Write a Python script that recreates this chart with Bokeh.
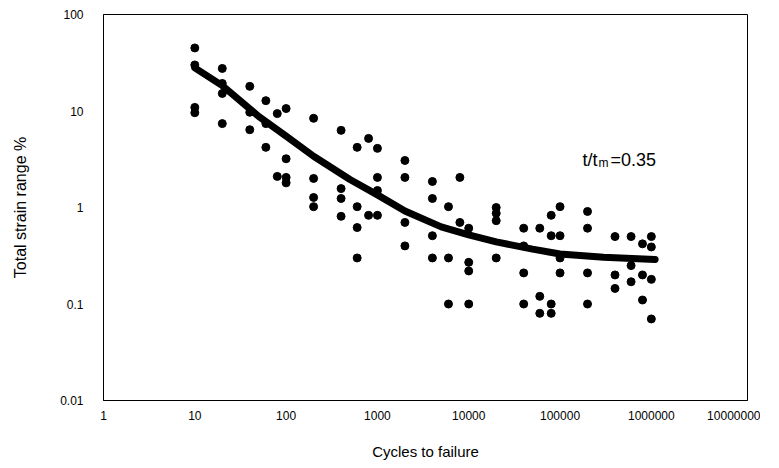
from bokeh.plotting import figure
from bokeh.models import Range1d, FixedTicker, Label
from bokeh.embed import file_html
from bokeh.resources import INLINE

# ---- data ----
cycles = (
    [10] * 4 + [20] * 4 + [40] * 3 + [60] * 3 + [80] * 2 + [100] * 4 +
    [200] * 4 + [400] * 4 + [600] * 4 + [800] * 2 + [1000] * 4 +
    [2000] * 4 + [4000] * 4 + [6000] * 3 + [8000] * 2 + [10000] * 4 +
    [20000] * 4 + [40000] * 4 + [60000] * 3 + [80000] * 4 + [100000] * 4 +
    [200000] * 4 + [400000] * 3 + [600000] * 3 + [800000] * 3 + [1000000] * 4
)
strain = [
    45, 30, 10.9, 9.6,
    27.6, 19.3, 15.2, 7.4,
    18, 9.7, 6.4,
    12.8, 7.4, 4.2,
    9.4, 2.1,
    10.6, 3.2, 2.05, 1.8,
    8.4, 2.0, 1.27, 1.02,
    6.3, 1.57, 1.24, 0.81,
    4.2, 1.02, 0.62, 0.30,
    5.2, 0.83,
    4.1, 2.05, 1.5, 0.83,
    3.07, 2.05, 0.70, 0.40,
    1.86, 1.24, 0.51, 0.30,
    1.02, 0.30, 0.10,
    2.05, 0.70,
    0.61, 0.27, 0.22, 0.10,
    1.0, 0.87, 0.73, 0.30,
    0.61, 0.40, 0.21, 0.10,
    0.61, 0.12, 0.08,
    0.83, 0.51, 0.10, 0.08,
    1.02, 0.51, 0.30, 0.21,
    0.91, 0.61, 0.21, 0.10,
    0.50, 0.20, 0.145,
    0.50, 0.25, 0.17,
    0.42, 0.20, 0.11,
    0.50, 0.39, 0.18, 0.07,
]

fit_cycles = [10, 20, 50, 100, 200, 500, 1000, 2000, 5000, 10000,
              20000, 50000, 100000, 300000, 1100000]
fit_strain = [28, 18.3, 8.8, 5.5, 3.4, 1.95, 1.35, 0.92, 0.63, 0.52,
              0.44, 0.37, 0.33, 0.305, 0.29]

x_ticks = [1, 10, 100, 1000, 10000, 100000, 1000000, 10000000]
x_tick_labels = ["1", "10", "100", "1000", "10000", "100000", "1000000", "10000000"]
y_ticks = [0.01, 0.1, 1, 10, 100]
y_tick_labels = ["0.01", "0.1", "1", "10", "100"]

annotation_main = "t/t"
annotation_sub = "m"
annotation_value = "=0.35"

FONT = "Liberation Sans"

p = figure(width=760, height=465, x_axis_type="log", y_axis_type="log",
           x_range=Range1d(1, 1.13e7), y_range=Range1d(0.01, 100),
           output_backend="svg", toolbar_location=None,
           min_border_left=103, min_border_right=13,
           min_border_top=14, min_border_bottom=65)

p.background_fill_color = "white"
p.border_fill_color = "white"
p.outline_line_color = "black"
p.outline_line_width = 1
p.xgrid.visible = False
p.ygrid.visible = False

p.xaxis.ticker = FixedTicker(ticks=x_ticks)
p.yaxis.ticker = FixedTicker(ticks=y_ticks)
p.xaxis.major_label_overrides = {t: s for t, s in zip(x_ticks, x_tick_labels)}
p.yaxis.major_label_overrides = {t: s for t, s in zip(y_ticks, y_tick_labels)}

for ax in (p.xaxis, p.yaxis):
    ax.major_tick_line_color = None
    ax.minor_tick_line_color = None
    ax.major_tick_out = 0
    ax.major_tick_in = 0
    ax.axis_line_color = "black"
    ax.axis_line_width = 1
    ax.major_label_text_font = FONT
    ax.major_label_text_font_size = "12px"
    ax.major_label_text_color = "black"
    ax.axis_label_text_font = FONT
    ax.axis_label_text_font_style = "normal"
    ax.axis_label_text_color = "black"

p.xaxis.axis_label_text_font_size = "15px"
p.yaxis.axis_label_text_font_size = "16px"
p.xaxis.major_label_standoff = 10
p.yaxis.major_label_standoff = 20
p.xaxis.axis_label = "Cycles to failure"
p.yaxis.axis_label = "Total strain range %"
p.xaxis.axis_label_standoff = 20
p.yaxis.axis_label_standoff = 28

p.scatter(cycles, strain, size=8, color="black", line_color="black")
p.line(fit_cycles, fit_strain, line_width=7, color="black",
       line_join="round", line_cap="round")

p.add_layout(Label(x=1.76e5, y=3.07, text=annotation_main, text_font=FONT,
                   text_font_size="18px", text_color="black", text_baseline="alphabetic"))
p.add_layout(Label(x=2.64e5, y=2.86, text=annotation_sub, text_font=FONT,
                   text_font_size="12px", text_color="black", text_baseline="alphabetic"))
p.add_layout(Label(x=3.57e5, y=3.07, text=annotation_value, text_font=FONT,
                   text_font_size="18px", text_color="black", text_baseline="alphabetic"))

open("out.html", "w").write(file_html(p, INLINE))
